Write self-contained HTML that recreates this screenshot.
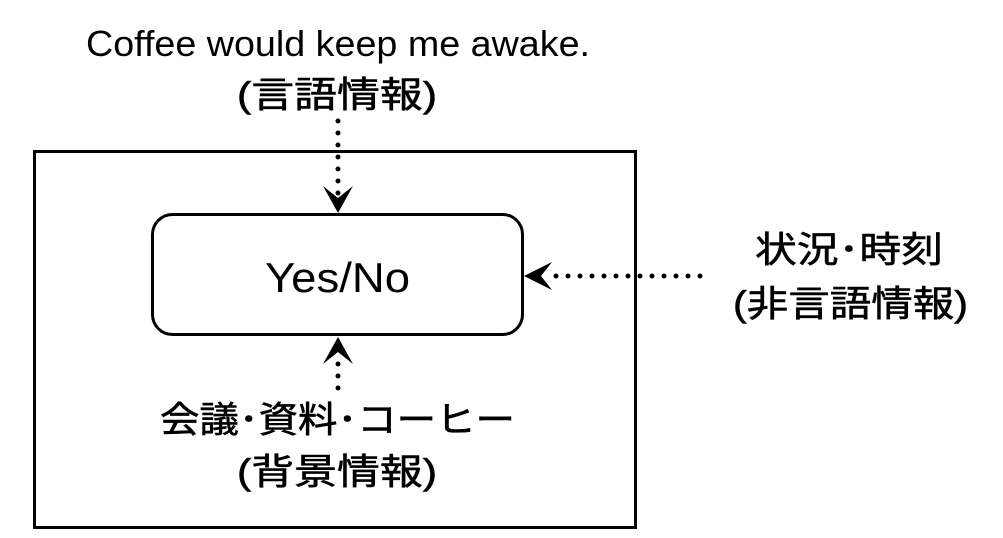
<!DOCTYPE html>
<html><head><meta charset="utf-8"><style>
html,body{margin:0;padding:0;background:#fff;}
body{width:1003px;height:533px;overflow:hidden;}
svg text{font-family:"Liberation Sans","Noto Sans CJK JP",sans-serif;fill:#000;}
.j{stroke:#000;stroke-width:0.6;}
</style></head><body>
<svg width="1003" height="533" viewBox="0 0 1003 533" xmlns="http://www.w3.org/2000/svg">
<rect x="34.5" y="151.5" width="601" height="376" fill="none" stroke="#000" stroke-width="3"/>
<rect x="152.5" y="214.5" width="370" height="120" rx="20" fill="none" stroke="#000" stroke-width="3"/>
<text x="265" y="292" font-size="42" textLength="145" lengthAdjust="spacingAndGlyphs">Yes/No</text>
<text x="86" y="56" font-size="36" textLength="504" lengthAdjust="spacingAndGlyphs">Coffee would keep me awake.</text>
<text class="j" x="237" y="107" font-size="36" textLength="200" lengthAdjust="spacingAndGlyphs">(言語情報)</text>
<text class="j" x="755" y="262" font-size="36" textLength="188" lengthAdjust="spacingAndGlyphs">状況･時刻</text>
<text class="j" x="733" y="316" font-size="36" textLength="235" lengthAdjust="spacingAndGlyphs">(非言語情報)</text>
<text class="j" x="160" y="432" font-size="36" textLength="355" lengthAdjust="spacingAndGlyphs">会議･資料･コーヒー</text>
<text class="j" x="237" y="484" font-size="36" textLength="200" lengthAdjust="spacingAndGlyphs">(背景情報)</text>
<g fill="#000">
<line x1="338" y1="121" x2="338" y2="194" stroke="#000" stroke-width="5" stroke-linecap="round" stroke-dasharray="0 12"/>
<path d="M338 213 L323 186 L338 198 L353 186 Z"/>
<line x1="700" y1="276" x2="550" y2="276" stroke="#000" stroke-width="5" stroke-linecap="round" stroke-dasharray="0 12"/>
<path d="M524 276 L552 262 L541 276 L552 290 Z"/>
<line x1="338" y1="388" x2="338" y2="362" stroke="#000" stroke-width="5" stroke-linecap="round" stroke-dasharray="0 12"/>
<path d="M338 337 L323 364 L338 352 L353 364 Z"/>
</g>
</svg>
</body></html>
